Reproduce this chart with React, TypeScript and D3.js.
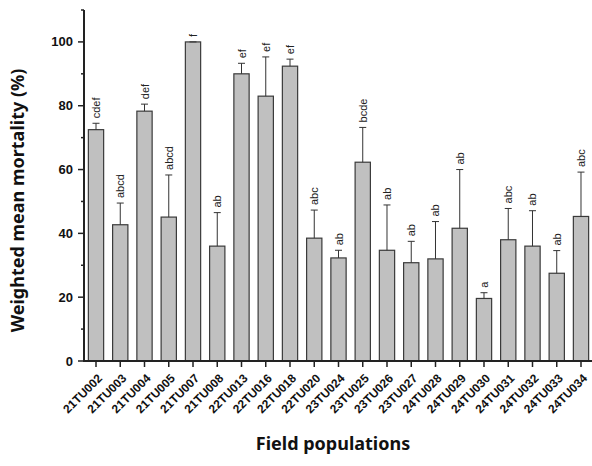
import * as d3 from 'd3'

const populations = [
  '21TU002', '21TU003', '21TU004', '21TU005', '21TU007', '21TU008',
  '22TU013', '22TU016', '22TU018', '22TU020',
  '23TU024', '23TU025', '23TU026', '23TU027',
  '24TU028', '24TU029', '24TU030', '24TU031', '24TU032', '24TU033', '24TU034',
]
const mortality = [72.5, 42.7, 78.3, 45.1, 100, 36, 90, 83, 92.4, 38.5, 32.3, 62.3, 34.7, 30.8, 32, 41.6, 19.6, 38, 36, 27.5, 45.3]
const errors = [2, 6.8, 2.2, 13.2, 0, 10.5, 3.3, 12.3, 2.2, 8.8, 2.4, 10.9, 14.2, 6.7, 11.7, 18.4, 1.8, 9.8, 11.1, 7.1, 13.9]
const letters = ['cdef', 'abcd', 'def', 'abcd', 'f', 'ab', 'ef', 'ef', 'ef', 'abc', 'ab', 'bcde', 'ab', 'ab', 'ab', 'ab', 'a', 'abc', 'ab', 'ab', 'abc']
const yTicks = [0, 20, 40, 60, 80, 100]
const yMinor = [10, 30, 50, 70, 90, 110]

const tickFont = 'Arial, "Liberation Sans", sans-serif'
const titleFont = '"Noto Sans", "Open Sans", sans-serif'

export default function App() {
  const left = 84, right = 592, top = 10, bottom = 361

  const x = d3.scaleBand()
    .domain(populations)
    .range([left, right + 1])
    .paddingInner(0.37)
    .paddingOuter(0.18)
  const y = d3.scaleLinear().domain([0, 110]).range([bottom, top])
  const bw = x.bandwidth()
  const cx = (d: string) => x(d)! + bw / 2

  return (
    <svg width={592} height={466} style={{ position: 'absolute', left: 0, top: 0, background: '#fff' }}>
      {/* bars */}
      {populations.map((p, i) => (
        <rect key={p} x={x(p)} y={y(mortality[i])} width={bw} height={bottom - y(mortality[i])}
          fill="#c0c0c0" stroke="#3a3a3a" strokeWidth={1.2} />
      ))}
      {/* error bars, upper only */}
      {populations.map((p, i) => {
        const top = y(mortality[i] + errors[i])
        return (
          <g key={p} stroke="#333" strokeWidth={1}>
            <line x1={cx(p)} x2={cx(p)} y1={y(mortality[i])} y2={top} />
            <line x1={cx(p) - 3.5} x2={cx(p) + 3.5} y1={top} y2={top} />
          </g>
        )
      })}
      {/* significance letters */}
      {populations.map((p, i) => (
        <text key={p} transform={`translate(${cx(p) + 4},${y(mortality[i] + errors[i]) - 5}) rotate(-90)`}
          fontFamily={tickFont} fontSize={11} fill="#222">{letters[i]}</text>
      ))}

      {/* y axis */}
      <line x1={left} x2={left} y1={top} y2={bottom + 1} stroke="#222" strokeWidth={2} />
      {yTicks.map(t => (
        <g key={t} transform={`translate(${left},${y(t)})`}>
          <line x1={-6} x2={0} stroke="#222" strokeWidth={1.5} />
          <text x={-11} dy="0.35em" textAnchor="end" fontFamily={tickFont} fontSize={13}
            fontWeight="bold" fill="#111">{t}</text>
        </g>
      ))}
      {yMinor.map(t => (
        <line key={t} x1={left - 3} x2={left} y1={y(t)} y2={y(t)} stroke="#222" strokeWidth={1.5} />
      ))}

      {/* x axis */}
      <line x1={left - 1} x2={right} y1={bottom} y2={bottom} stroke="#222" strokeWidth={2} />
      {populations.map(p => (
        <g key={p} transform={`translate(${cx(p)},${bottom})`}>
          <line y1={0} y2={6} stroke="#222" strokeWidth={1.5} />
          <text transform="translate(4,15) rotate(-45)" textAnchor="end" dy="0.35em"
            fontFamily={tickFont} fontSize={12} fontWeight="bold" fill="#111">{p}</text>
        </g>
      ))}

      {/* axis titles */}
      <text transform={`translate(24,${(top + bottom) / 2 + 15}) rotate(-90)`} textAnchor="middle"
        fontFamily={titleFont} fontSize={18} fontWeight="bold" fill="#111">Weighted mean mortality (%)</text>
      <text x={333} y={450} textAnchor="middle" fontFamily={titleFont} fontSize={18}
        fontWeight="bold" fill="#111">Field populations</text>
    </svg>
  )
}
